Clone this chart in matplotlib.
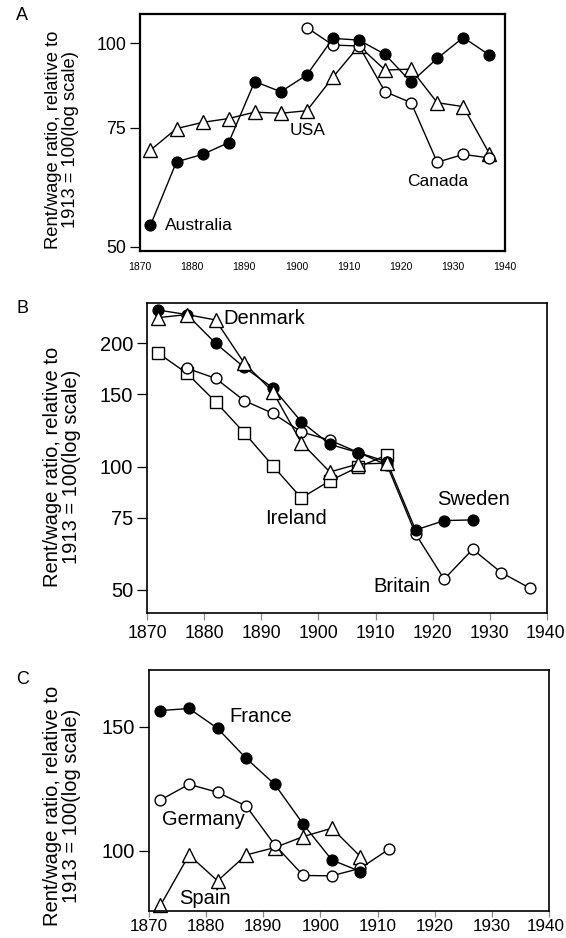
import matplotlib
matplotlib.use("Agg")
import matplotlib.pyplot as plt
import matplotlib.transforms as mtransforms
from matplotlib.ticker import FixedLocator, FixedFormatter, NullLocator

plt.rcParams['font.family'] = ['Liberation Sans', 'DejaVu Sans']

years = [1872, 1877, 1882, 1887, 1892, 1897, 1902, 1907, 1912, 1917, 1922, 1927, 1932, 1937]

# panel A
australia = [53.8, 66.8, 68.5, 71.3, 87.8, 84.8, 89.8, 101.7, 101.1, 96.3, 87.6, 95.0, 102.0, 96.1]
usa = [69.5, 74.8, 76.4, 77.4, 79.1, 78.8, 79.5, 89.1, 99.1, 91.3, 91.6, 81.7, 80.6, 68.7]
canada_years = [1902, 1907, 1912, 1917, 1922, 1927, 1932, 1937]
canada = [105.5, 99.4, 99.1, 84.8, 81.7, 66.7, 68.5, 67.7]

# panel B
sweden_years = years[:12]
sweden = [241, 235, 200, 174.7, 155.8, 128.7, 113.3, 108.1, 102.8, 70.0, 73.8, 74.1]
denmark_years = years[:9]
denmark = [231, 235, 228, 179, 152.4, 114.4, 97.0, 101.5, 101.9]
britain_years = years[1:]
britain = [173.7, 164.2, 144.9, 134.9, 121.5, 116.0, 108.2, 100.9, 68.5, 53.1, 62.8, 55.1, 50.5]
ireland_years = years[:9]
ireland = [189, 168.9, 144.0, 121.0, 100.5, 83.8, 92.3, 99.8, 106.7]

# panel C
france_years = years[:8]
france = [158.1, 159.2, 149.2, 135.3, 124.3, 109.1, 97.1, 93.5]
germany_years = years[:9]
germany = [118.1, 124.3, 121.1, 115.8, 102.0, 92.3, 92.2, 94.5, 100.6]
spain_years = years[:8]
spain = [83.7, 98.7, 90.7, 98.7, 101.1, 104.8, 107.7, 98.2]

xticks = [1870, 1880, 1890, 1900, 1910, 1920, 1930, 1940]
ylabel = "Rent/wage ratio, relative to\n1913 = 100(log scale)"

W, H = 566, 938
fig = plt.figure(figsize=(W / 100, H / 100), dpi=100)


def box(l, t, r, b):
    return [l / W, 1 - b / H, (r - l) / W, (b - t) / H]


def series(ax, xs, ys, style):
    if style == 'filled':
        ax.plot(xs, ys, color='black', lw=1.0, marker='o', ms=7.8,
                mfc='black', mec='black', clip_on=False)
    elif style == 'circle':
        ax.plot(xs, ys, color='black', lw=1.0, marker='o', ms=7.8,
                mfc='white', mec='black', mew=1.0, clip_on=False)
    elif style == 'tri':
        ax.plot(xs, ys, color='black', lw=1.0, marker='^', ms=9.5,
                mfc='white', mec='black', mew=1.0, clip_on=False)
    else:
        ax.plot(xs, ys, color='black', lw=1.0, marker='s', ms=8.2,
                mfc='white', mec='black', mew=1.0, clip_on=False)


def setup(ax, ylim, yt, ysize, xmode='normal', spine_w=1.2):
    ax.set_yscale('log')
    ax.set_xlim(1870, 1940)
    ax.set_ylim(*ylim)
    ax.yaxis.set_major_locator(FixedLocator(yt))
    ax.yaxis.set_major_formatter(FixedFormatter([str(v) for v in yt]))
    ax.yaxis.set_minor_locator(NullLocator())
    ax.set_xticks(xticks)
    ax.tick_params(axis='y', direction='out', length=7, width=0.9,
                   pad=3, labelsize=ysize)
    if xmode == 'small':
        ax.tick_params(axis='x', length=0, pad=8, labelsize=7.5)
    elif xmode == 'tight':
        ax.tick_params(axis='x', direction='out', length=4, width=0.9,
                       color='#888888', pad=1.5, labelsize=12.3)
    else:
        ax.tick_params(axis='x', direction='out', length=5, width=0.9,
                       color='#888888', pad=4, labelsize=12.8)
    for s in ax.spines.values():
        s.set_linewidth(spine_w)


def nudge_last(ax, dx):
    # keep the last year label inside the figure edge
    lab = ax.get_xticklabels()[-1]
    off = mtransforms.ScaledTranslation(dx / 100, 0, fig.dpi_scale_trans)
    lab.set_transform(lab.get_transform() + off)


# A
axA = fig.add_axes(box(140, 14, 505, 251))
setup(axA, (49.3, 110.5), [50, 75, 100], 12.8, xmode='small', spine_w=1.6)
series(axA, years, usa, 'tri')
series(axA, canada_years, canada, 'circle')
series(axA, years, australia, 'filled')
axA.text(1874.8, 53.8, "Australia", fontsize=12.5, ha='left', va='center')
axA.text(1902.2, 74.4, "USA", fontsize=12.5, ha='center', va='center')
axA.text(1927.1, 62.5, "Canada", fontsize=12.5, ha='center', va='center')

# B
axB = fig.add_axes(box(147, 303, 547, 613))
setup(axB, (43.9, 250.8), [50, 75, 100, 150, 200], 14.5)
series(axB, ireland_years, ireland, 'square')
series(axB, britain_years, britain, 'circle')
series(axB, sweden_years, sweden, 'filled')
series(axB, denmark_years, denmark, 'tri')
axB.text(1883.3, 230, "Denmark", fontsize=14.5, ha='left', va='center')
axB.text(1896.1, 74.8, "Ireland", fontsize=14.5, ha='center', va='center')
axB.text(1927.2, 82.9, "Sweden", fontsize=14.5, ha='center', va='center')
axB.text(1914.6, 50.9, "Britain", fontsize=14.5, ha='center', va='center')

# C
axC = fig.add_axes(box(149, 670, 549, 911))
setup(axC, (82.2, 180.5), [100, 150], 14.5, xmode='tight')
series(axC, spain_years, spain, 'tri')
series(axC, germany_years, germany, 'circle')
series(axC, france_years, france, 'filled')
axC.text(1889.6, 155.0, "France", fontsize=14.5, ha='center', va='center')
axC.text(1879.5, 110.7, "Germany", fontsize=14.5, ha='center', va='center')
axC.text(1879.8, 85.7, "Spain", fontsize=14.5, ha='center', va='center')

nudge_last(axB, -2)
nudge_last(axC, -3)

# panel letters and y labels
for letter, ly, cy, fs in [("A", 15, 140, 13.2), ("B", 308, 467, 14.5), ("C", 680, 806, 14.5)]:
    fig.text(16 / W, 1 - ly / H, letter, fontsize=13, ha='left', va='center')
    fig.text(62 / W, 1 - cy / H, ylabel, fontsize=fs, rotation=90,
             ha='center', va='center', multialignment='center',
             linespacing=1.0)

fig.savefig("out.png", dpi=100)
